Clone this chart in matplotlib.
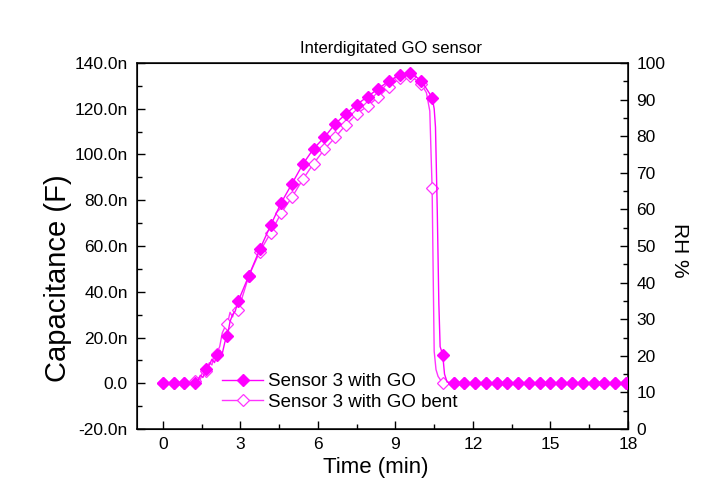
import matplotlib
matplotlib.use("Agg")
import matplotlib.pyplot as plt
from matplotlib.ticker import MultipleLocator, FuncFormatter
from matplotlib.lines import Line2D

plt.rcParams['font.family'] = ['Liberation Sans', 'DejaVu Sans']

# marker sample times (min)
t_mark = [0, 0.42, 0.83, 1.25, 1.67, 2.08, 2.5, 2.92, 3.33, 3.75, 4.17, 4.58, 5.0, 5.42,
          5.83, 6.25, 6.67, 7.08, 7.5, 7.92, 8.33, 8.75, 9.17, 9.58, 10.0, 10.42, 10.83,
          11.25, 11.67, 12.08, 12.5, 12.92, 13.33, 13.75, 14.17, 14.58, 15.0, 15.42, 15.83,
          16.25, 16.67, 17.08, 17.5, 17.92]

# Sensor 3 with GO (capacitance, nF)
c_go = [0, 0, 0, 0, 6.3, 12.2, 20.8, 36, 47.1, 58.5, 69, 78.9, 87.3, 95.8,
        102.5, 107.5, 113.4, 117.7, 121.8, 125.3, 128.7, 132.2, 134.8, 135.6, 132.3, 124.9, 12.5,
        0, 0, 0, 0, 0, 0, 0, 0, 0, 0, 0, 0, 0, 0, 0, 0, 0]
# extra line-only samples
t_go_extra = [1.35, 1.45, 1.55, 1.8, 1.9, 2.0, 2.2, 2.3, 2.4, 2.6, 2.7, 2.8,
              10.5, 10.55, 10.62, 10.68, 10.73, 10.9, 11.0]
c_go_extra = [1, 3.5, 2.5, 8, 10.5, 9, 14.5, 13, 18, 27, 30, 31.5,
              120, 112, 75, 35, 16, 4, 0.5]

# Sensor 3 with GO bent (capacitance, nF)
c_bent = [0, 0, 0, 0.8, 5.5, 13, 26, 32, 47, 57.5, 65.7, 74.4, 81.4, 89.2,
          96, 102.2, 107.5, 112.9, 117.7, 121.2, 125, 129.7, 133.3, 134.4, 130.9, 85.4, 0,
          0, 0, 0, 0, 0, 0, 0, 0, 0, 0, 0, 0, 0, 0, 0, 0, 0]
t_bent_extra = [1.35, 1.45, 1.55, 1.8, 1.9, 2.0, 2.2, 2.3, 2.4, 2.6, 2.7, 2.8,
                10.2, 10.33, 10.38, 10.47, 10.5, 10.57, 10.65]
c_bent_extra = [2.5, 1.5, 6, 9, 8, 13.5, 16, 22, 24.5, 31, 29, 33,
                127, 119, 100, 40, 14, 6, 3]

labels = ["Sensor 3 with GO", "Sensor 3 with GO bent"]

col_go = "#ff00ff"
col_bent = "#ff33ff"

def merged(t1, c1, t2, c2):
    pts = sorted(zip(list(t1) + list(t2), list(c1) + list(c2)))
    return [p[0] for p in pts], [p[1] for p in pts]

W, H = 718, 497
fig = plt.figure(figsize=(W/100, H/100), dpi=100)
ax = fig.add_axes([137/W, 1 - 429/H, (628-137)/W, (429-63)/H])

tb, cb = merged(t_mark, c_bent, t_bent_extra, c_bent_extra)
tg, cg = merged(t_mark, c_go, t_go_extra, c_go_extra)

ax.plot(tb, cb, color=col_bent, lw=1.0, zorder=2)
ax.plot(t_mark, c_bent, ls='none', marker='D', ms=6, mfc='white', mec=col_bent, mew=0.9, zorder=3)
ax.plot(tg, cg, color=col_go, lw=1.0, zorder=4)
ax.plot(t_mark, c_go, ls='none', marker='D', ms=6, mfc=col_go, mec=col_go, zorder=5)

h1 = Line2D([], [], color=col_go, lw=1.0, marker='D', ms=6.5, mfc=col_go, mec=col_go)
h2 = Line2D([], [], color=col_bent, lw=1.0, marker='D', ms=6.5, mfc='white', mec=col_bent, mew=0.9)
ax.legend([h1, h2], labels, loc='upper left',
          bbox_to_anchor=((222-137)/491, (429-373)/366),
          frameon=False, fontsize=13.5, handlelength=2.2, handletextpad=0.27,
          labelspacing=0.2, borderaxespad=0, borderpad=0)

ax.set_xlim(-1, 18)
ax.set_ylim(-20, 140)
ax.xaxis.set_major_locator(MultipleLocator(3))
ax.xaxis.set_minor_locator(MultipleLocator(1.5))
ax.yaxis.set_major_locator(MultipleLocator(20))
ax.yaxis.set_minor_locator(MultipleLocator(10))
ax.yaxis.set_major_formatter(FuncFormatter(lambda v, p: "0.0" if abs(v) < 1e-9 else f"{v:.1f}n"))
ax.tick_params(which='both', direction='in', top=False, right=False, labelsize=12.5)
ax.tick_params(which='major', length=6, width=1)
ax.tick_params(which='minor', length=3.5, width=1)
ax.tick_params(axis='y', which='both', pad=6.5)
ax.tick_params(axis='x', which='both', pad=5.5)
for s in ax.spines.values():
    s.set_linewidth(1.1)

ax2 = ax.twinx()
ax2.set_ylim(0, 100)
ax2.yaxis.set_major_locator(MultipleLocator(10))
ax2.yaxis.set_minor_locator(MultipleLocator(5))
ax2.tick_params(which='both', direction='in', labelsize=12.5, pad=6)
ax2.tick_params(which='major', length=6, width=1)
ax2.tick_params(which='minor', length=3.5, width=1)

fig.text(376/W, 1 - 468/H, "Time (min)", ha='center', va='center', fontsize=16)
fig.text(58/W, 1 - 278/H, "Capacitance (F)", ha='center', va='center', rotation=90, fontsize=21)
fig.text(680/W, 1 - 250/H, "RH %", ha='center', va='center', rotation=-90, fontsize=15)
fig.text(391.5/W, 1 - 48/H, "Interdigitated GO sensor", ha='center', va='center', fontsize=12)

fig.savefig("out.png", dpi=100)
